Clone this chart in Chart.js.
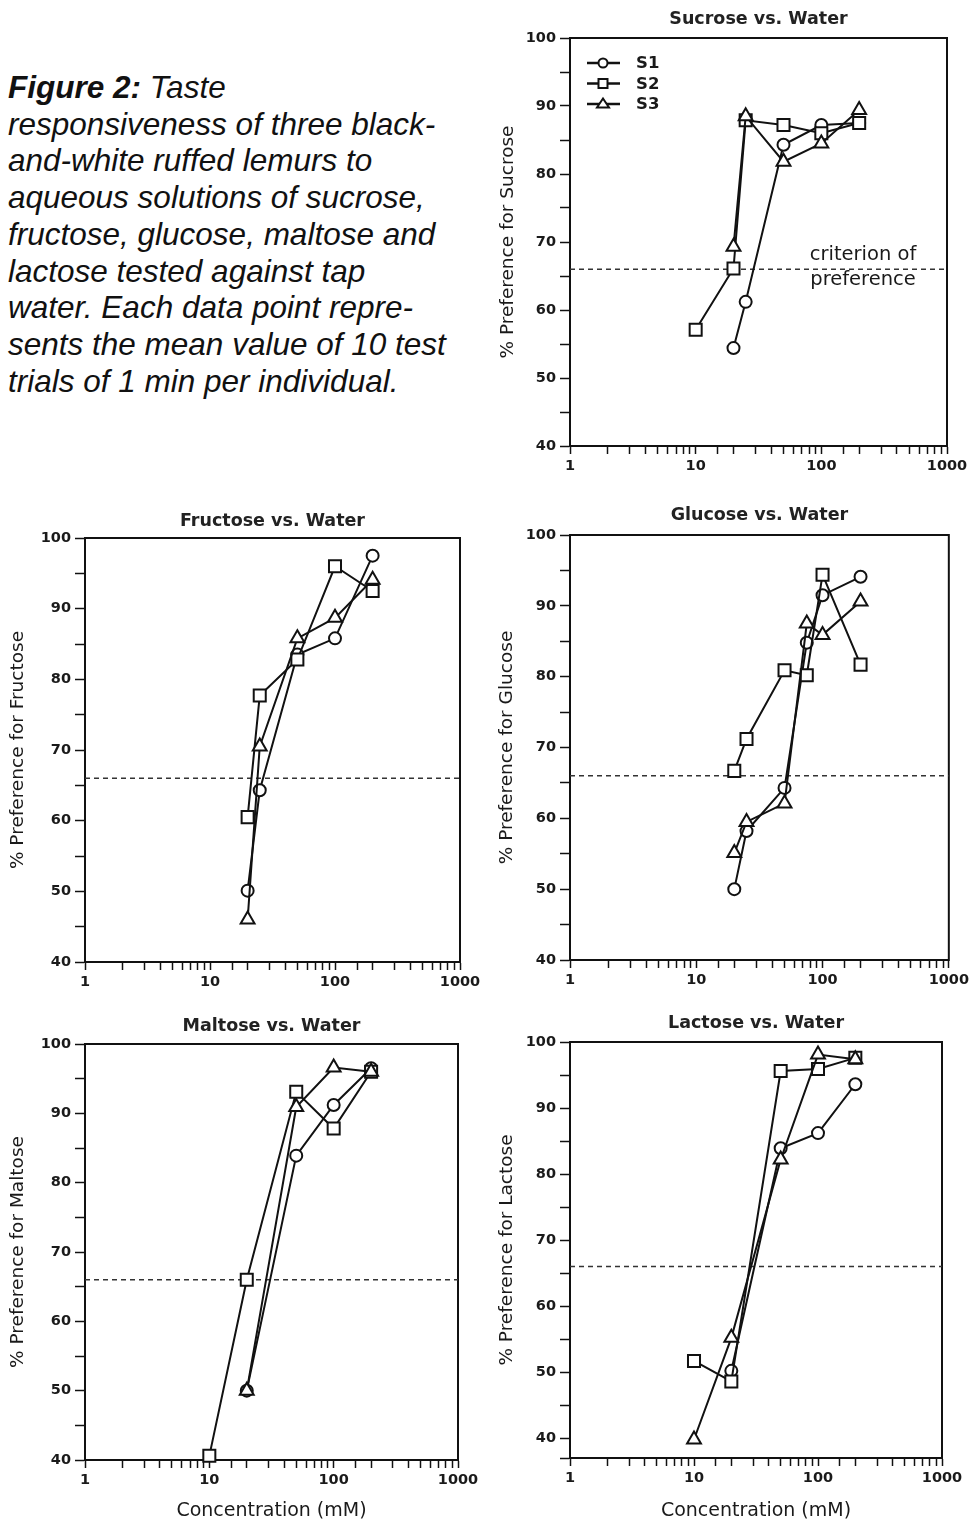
<!DOCTYPE html>
<html>
<head>
<meta charset="utf-8">
<title>Figure 2 - taste responsiveness</title>
<script src="https://cdn.jsdelivr.net/npm/chart.js@4.4.1/dist/chart.umd.min.js"></script>
<style>
    html, body { margin: 0; padding: 0; background: #fff; }
    body { position: relative; width: 973px; height: 1524px; overflow: hidden; }
    .caption {
        position: absolute; left: 8px; top: 69px;
        font: italic 31.5px/36.7px "Liberation Sans", Arial, sans-serif;
        color: #111; white-space: nowrap;
    }
    canvas { position: absolute; }
</style>
</head>
<body>

<div class="caption"><b>Figure 2:</b> Taste<br>responsiveness of three black-<br>and-white ruffed lemurs to<br>aqueous solutions of sucrose,<br>fructose, glucose, maltose and<br>lactose tested against tap<br>water. Each data point repre-<br>sents the mean value of 10 test<br>trials of 1 min per individual.</div>

<canvas id="sucrose" width="485" height="476" style="left:488px;top:0px"></canvas>
<canvas id="fructose" width="485" height="492" style="left:0px;top:500px"></canvas>
<canvas id="glucose" width="485" height="495" style="left:488px;top:495px"></canvas>
<canvas id="maltose" width="485" height="519" style="left:0px;top:1005px"></canvas>
<canvas id="lactose" width="485" height="522" style="left:488px;top:1002px"></canvas>

<script>
// data, concentrations in mM, values in % preference
const seriesNames = ['S1', 'S2', 'S3'];
const xTickLabels = [1, 10, 100, 1000];
const criterion = 66;

const sucroseConc = [10, 20, 25, 50, 100, 200];
const sucroseS1 = [null, 54.4, 61.2, 84.3, 87.2, 87.5];
const sucroseS2 = [57.1, 66.1, 87.9, 87.2, 86.0, 87.5];
const sucroseS3 = [null, 69.3, 88.5, 81.8, 84.5, 89.4];

const fructoseConc = [20, 25, 50, 100, 200];
const fructoseS1 = [50.1, 64.3, 83.5, 85.8, 97.5];
const fructoseS2 = [60.5, 77.7, 82.8, 96.0, 92.5];
const fructoseS3 = [46.0, 70.5, 85.8, 88.7, 94.1];

const glucoseConc = [20, 25, 50, 75, 100, 200];
const glucoseS1 = [50.0, 58.2, 64.3, 84.8, 91.5, 94.1];
const glucoseS2 = [66.7, 71.2, 80.9, 80.2, 94.4, 81.7];
const glucoseS3 = [55.1, 59.5, 62.1, 87.5, 85.9, 90.6];

const maltoseConc = [10, 20, 50, 100, 200];
const maltoseS1 = [null, 50.0, 83.9, 91.2, 96.5];
const maltoseS2 = [40.6, 66.0, 93.1, 87.8, 96.0];
const maltoseS3 = [null, 50.0, 90.9, 96.6, 96.0];

const lactoseConc = [10, 20, 50, 100, 200];
const lactoseS1 = [null, 50.2, 83.9, 86.2, 93.6];
const lactoseS2 = [51.7, 48.6, 95.6, 95.9, 97.6];
const lactoseS3 = [39.8, 55.2, 82.2, 98.1, 97.4];

// marker look per subject
const markers = ['circle', 'rect', 'triangle'];
const markerRadius = [6, 8.5, 8];
const ink = '#111';

Chart.defaults.font.family = "'DejaVu Sans', sans-serif";
Chart.defaults.color = '#1a1a1a';

// box around the plot area
const framePlugin = {
    id: 'frame',
    beforeDatasetsDraw(chart) {
        const { ctx, chartArea: a } = chart;
        ctx.save();
        ctx.strokeStyle = ink;
        ctx.lineWidth = 2;
        ctx.strokeRect(a.left, a.top, a.right - a.left, a.bottom - a.top);
        ctx.restore();
    }
};

// legend drawn inside the sucrose panel (line + marker + name)
const insideLegend = {
    id: 'insideLegend',
    afterDraw(chart) {
        const { ctx, chartArea: a } = chart;
        ctx.save();
        chart.data.datasets.forEach((ds, i) => {
            if (!seriesNames.includes(ds.label)) return;
            const y = a.top + 25 + i * 20.5;
            const x0 = a.left + 17;
            const xm = x0 + 16;
            ctx.strokeStyle = ink;
            ctx.fillStyle = '#fff';
            ctx.lineWidth = 2.5;
            ctx.beginPath();
            ctx.moveTo(x0, y);
            ctx.lineTo(x0 + 33, y);
            ctx.stroke();
            ctx.lineWidth = 2;
            ctx.beginPath();
            if (ds.pointStyle === 'circle') {
                ctx.arc(xm, y, 4.5, 0, Math.PI * 2);
            } else if (ds.pointStyle === 'rect') {
                ctx.rect(xm - 4.5, y - 4.5, 9, 9);
            } else {
                ctx.moveTo(xm, y - 5.5);
                ctx.lineTo(xm + 6, y + 3.5);
                ctx.lineTo(xm - 6, y + 3.5);
                ctx.closePath();
            }
            ctx.fill();
            ctx.stroke();
            ctx.fillStyle = '#1a1a1a';
            ctx.font = "bold 16.5px 'DejaVu Sans', sans-serif";
            ctx.textBaseline = 'middle';
            ctx.textAlign = 'left';
            ctx.fillText(ds.label, a.left + 66, y + 1);
        });
        ctx.restore();
    }
};

// "criterion of preference" note next to the dashed line
const criterionNote = {
    id: 'criterionNote',
    afterDatasetsDraw(chart) {
        const { ctx, chartArea: a } = chart;
        const y = chart.scales.y.getPixelForValue(criterion);
        ctx.save();
        ctx.fillStyle = '#1a1a1a';
        ctx.font = "19.5px 'DejaVu Sans', sans-serif";
        ctx.textAlign = 'center';
        ctx.textBaseline = 'middle';
        ctx.fillText('criterion of', a.right - 84, y - 14);
        ctx.fillText('preference', a.right - 84, y + 11);
        ctx.restore();
    }
};

function buildChart(id, title, yTitle, conc, s1, s2, s3, box) {
    const datasets = [s1, s2, s3].map((vals, i) => ({
        label: seriesNames[i],
        data: conc.map((c, j) => ({ x: c, y: vals[j] })),
        borderColor: ink,
        borderWidth: 2,
        pointStyle: markers[i],
        pointRadius: markerRadius[i],
        pointBorderWidth: 2,
        pointBorderColor: ink,
        pointBackgroundColor: '#fff',
        spanGaps: true,
        tension: 0,
        clip: false,
        order: 3 - i,
    }));
    datasets.push({
        label: 'criterion',
        data: [{ x: xTickLabels[0], y: criterion }, { x: xTickLabels[3], y: criterion }],
        borderColor: '#333',
        borderWidth: 1.5,
        borderDash: [5, 4],
        pointRadius: 0,
        order: 10,
    });

    const extra = [framePlugin];
    if (box.legend) extra.push(insideLegend, criterionNote);

    return new Chart(document.getElementById(id), {
        type: 'line',
        data: { datasets: datasets },
        plugins: extra,
        options: {
            responsive: false,
            animation: false,
            events: [],
            layout: { padding: { left: 0, right: box.right, top: 0, bottom: 0 } },
            plugins: {
                legend: { display: false },
                tooltip: { enabled: false },
                title: {
                    display: true,
                    text: title,
                    fullSize: false,
                    color: '#222',
                    font: { size: 17.5, weight: 'bold', lineHeight: '20px' },
                    padding: { top: box.tt, bottom: box.tb },
                },
            },
            scales: {
                x: {
                    type: 'logarithmic',
                    min: xTickLabels[0],
                    max: xTickLabels[3],
                    grid: { drawOnChartArea: false, tickLength: 8, tickColor: ink, tickWidth: 1.5 },
                    border: { color: ink, width: 2 },
                    ticks: {
                        autoSkip: false,
                        maxRotation: 0,
                        padding: 4,
                        color: '#1a1a1a',
                        font: { size: 14.5, weight: 'bold' },
                        callback: v => xTickLabels.includes(v) ? String(v) : '',
                    },
                    title: {
                        display: !!box.xTitle,
                        text: 'Concentration (mM)',
                        font: { size: 19 },
                        color: '#1a1a1a',
                        padding: { top: 0, bottom: 2 },
                    },
                    afterFit: s => { s.height = box.xh; },
                },
                y: {
                    min: box.ymin,
                    max: 100,
                    grid: { drawOnChartArea: false, tickLength: 10, tickColor: ink, tickWidth: 1.5 },
                    border: { color: ink, width: 2 },
                    ticks: {
                        stepSize: 5,
                        padding: 4,
                        color: '#1a1a1a',
                        font: { size: 14.5, weight: 'bold' },
                        callback: v => v % 10 === 0 ? v : '',
                    },
                    title: {
                        display: true,
                        text: yTitle,
                        font: { size: 18.5 },
                        color: '#1a1a1a',
                        padding: { top: box.yt, bottom: 0 },
                    },
                    afterFit: s => { s.width = box.yw; },
                },
            },
        },
    });
}

buildChart('sucrose', 'Sucrose vs. Water', '% Preference for Sucrose',
    sucroseConc, sucroseS1, sucroseS2, sucroseS3,
    { right: 26, tt: 9, tb: 9, yw: 82, yt: 9, xh: 30, ymin: 40, legend: true });

buildChart('fructose', 'Fructose vs. Water', '% Preference for Fructose',
    fructoseConc, fructoseS1, fructoseS2, fructoseS3,
    { right: 25, tt: 11, tb: 7, yw: 85, yt: 7, xh: 30, ymin: 40 });

buildChart('glucose', 'Glucose vs. Water', '% Preference for Glucose',
    glucoseConc, glucoseS1, glucoseS2, glucoseS3,
    { right: 23, tt: 10, tb: 10, yw: 82, yt: 8, xh: 30, ymin: 40 });

buildChart('maltose', 'Maltose vs. Water', '% Preference for Maltose',
    maltoseConc, maltoseS1, maltoseS2, maltoseS3,
    { right: 27, tt: 11, tb: 8, yw: 85, yt: 7, xh: 64, ymin: 40, xTitle: true });

buildChart('lactose', 'Lactose vs. Water', '% Preference for Lactose',
    lactoseConc, lactoseS1, lactoseS2, lactoseS3,
    { right: 31, tt: 11, tb: 9, yw: 82, yt: 8, xh: 66, ymin: 37, xTitle: true });
</script>
</body>
</html>
